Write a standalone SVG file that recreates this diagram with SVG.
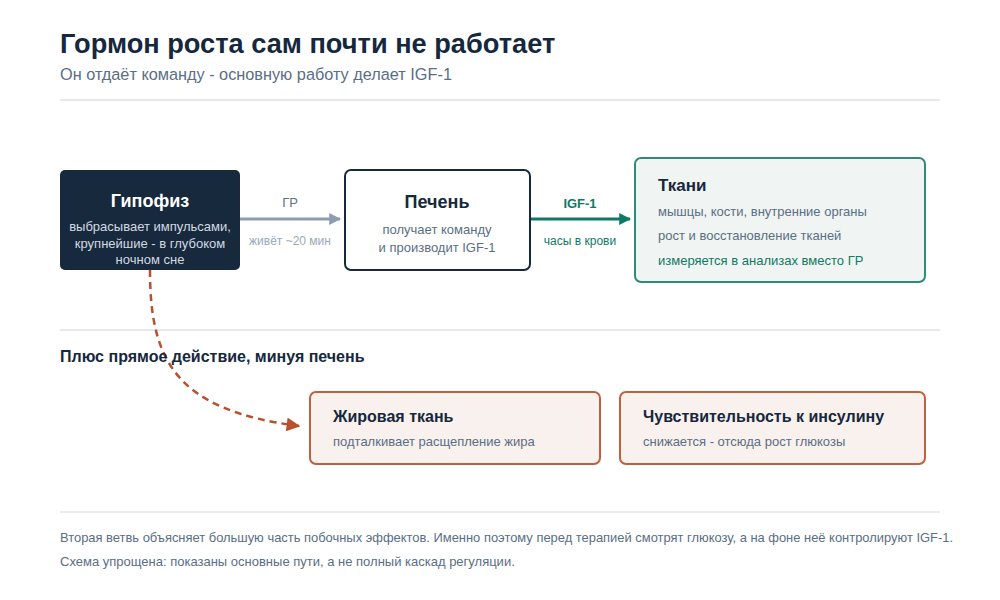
<svg xmlns="http://www.w3.org/2000/svg" width="1000" height="600" viewBox="0 0 1000 600">
<defs>
<style>
text{font-family:"Liberation Sans",Arial,sans-serif}
.h{font-weight:bold;fill:#16283d}
.s{fill:#5a6e84;font-size:13px}
.div{stroke:#e6e9ee;stroke-width:2}
.orange{fill:#f9f1ed;stroke:#c0603f;stroke-width:2}
</style>
<marker id="ag" viewBox="0 0 10 10" refX="9" refY="5" markerWidth="4" markerHeight="4" orient="auto" markerUnits="strokeWidth"><path d="M0,0L10,5L0,10z" fill="#8d9db0"/></marker>
<marker id="at" viewBox="0 0 10 10" refX="9" refY="5" markerWidth="4" markerHeight="4" orient="auto" markerUnits="strokeWidth"><path d="M0,0L10,5L0,10z" fill="#0f7a64"/></marker>
<marker id="ao" viewBox="0 0 10 10" refX="9" refY="5" markerWidth="5.5" markerHeight="5.5" orient="auto" markerUnits="strokeWidth"><path d="M0,0L10,5L0,10z" fill="#b8502d"/></marker>
</defs>
<rect width="1000" height="600" fill="#ffffff"/>
<text x="60" y="53" class="h" font-size="27.2">Гормон роста сам почти не работает</text>
<text x="60" y="80" fill="#5a6e84" font-size="16.3">Он отдаёт команду - основную работу делает IGF-1</text>
<line x1="60" y1="100" x2="940" y2="100" class="div"/>
<line x1="60" y1="330" x2="940" y2="330" class="div"/>
<line x1="60" y1="512" x2="940" y2="512" class="div"/>
<g id="connectors">
<line x1="240" y1="219" x2="340" y2="219" stroke="#8d9db0" stroke-width="3" marker-end="url(#ag)"/>
<text x="290" y="207" text-anchor="middle" fill="#5f7186" font-size="13">ГР</text>
<text x="290" y="245" text-anchor="middle" fill="#9aa8b8" font-size="12">живёт ~20 мин</text>
<line x1="530" y1="219" x2="630" y2="219" stroke="#0f7a64" stroke-width="3" marker-end="url(#at)"/>
<text x="580" y="208" text-anchor="middle" fill="#0f7a64" font-size="13" font-weight="bold">IGF-1</text>
<text x="580" y="245" text-anchor="middle" fill="#0f7a64" font-size="12">часы в крови</text>
<path d="M150,270 C150,360 175,410 299,426" fill="none" stroke="#b8502d" stroke-width="2.5" stroke-dasharray="7 5" marker-end="url(#ao)"/>
</g>
<g id="gipofiz">
<rect x="60" y="170" width="180" height="100" rx="5" fill="#17293d"/>
<text x="150" y="207" text-anchor="middle" font-weight="bold" font-size="18" fill="#ffffff">Гипофиз</text>
<text x="150" y="231" text-anchor="middle" font-size="13" fill="#d3dae2">выбрасывает импульсами,</text>
<text x="150" y="248" text-anchor="middle" font-size="13" fill="#d3dae2">крупнейшие - в глубоком</text>
<text x="150" y="264" text-anchor="middle" font-size="13" fill="#d3dae2">ночном сне</text>
</g>
<g id="pechen">
<rect x="345" y="170" width="185" height="100" rx="6" fill="#ffffff" stroke="#17293d" stroke-width="2"/>
<text x="437" y="208" text-anchor="middle" class="h" font-size="18">Печень</text>
<text x="437" y="234" text-anchor="middle" class="s">получает команду</text>
<text x="437" y="252" text-anchor="middle" class="s">и производит IGF-1</text>
</g>
<g id="tkani">
<rect x="635" y="158" width="290" height="124" rx="6" fill="#f0f5f3" stroke="#2f8a77" stroke-width="2"/>
<text x="658" y="191" class="h" font-size="17">Ткани</text>
<text x="658" y="216" class="s">мышцы, кости, внутренние органы</text>
<text x="658" y="240" class="s">рост и восстановление тканей</text>
<text x="658" y="265" fill="#0f7a64" font-size="13">измеряется в анализах вместо ГР</text>
</g>
<text x="60" y="362" class="h" font-size="16">Плюс прямое действие, минуя печень</text>
<g id="zhir">
<rect x="310" y="392" width="290" height="72" rx="6" class="orange"/>
<text x="333" y="422" class="h" font-size="16">Жировая ткань</text>
<text x="333" y="446" class="s">подталкивает расщепление жира</text>
</g>
<g id="insulin">
<rect x="620" y="392" width="305" height="72" rx="6" class="orange"/>
<text x="643" y="422" class="h" font-size="16">Чувствительность к инсулину</text>
<text x="643" y="446" class="s">снижается - отсюда рост глюкозы</text>
</g>
<text x="60" y="542" class="s" textLength="893" lengthAdjust="spacingAndGlyphs">Вторая ветвь объясняет большую часть побочных эффектов. Именно поэтому перед терапией смотрят глюкозу, а на фоне неё контролируют IGF-1.</text>
<text x="60" y="566" class="s">Схема упрощена: показаны основные пути, а не полный каскад регуляции.</text>
</svg>
